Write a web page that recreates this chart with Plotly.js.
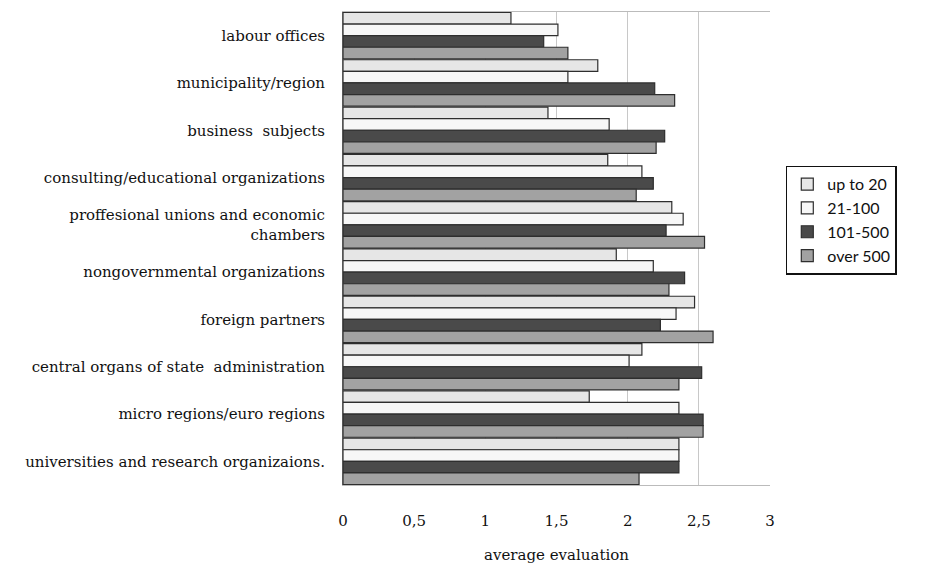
<!DOCTYPE html>
<html>
<head>
<meta charset="utf-8">
<script src="https://cdn.plot.ly/plotly-3.0.1.min.js"></script>
<style>html,body{margin:0;padding:0;background:#fff;}#chart{width:943px;height:569px;}</style>
</head>
<body>
<div id="chart"></div>
<script>
const categories = [
  "labour offices",
  "municipality/region",
  "business  subjects",
  "consulting/educational organizations",
  "proffesional unions and economic<br>chambers",
  "nongovernmental organizations",
  "foreign partners",
  "central organs of state  administration",
  "micro regions/euro regions",
  "universities and research organizaions."
];
const seriesNames = ["up to 20", "21-100", "101-500", "over 500"];
const upTo20   = [1.18, 1.79, 1.44, 1.86, 2.31, 1.92, 2.47, 2.10, 1.73, 2.36];
const s21to100 = [1.51, 1.58, 1.87, 2.10, 2.39, 2.18, 2.34, 2.01, 2.36, 2.36];
const s101to500= [1.41, 2.19, 2.26, 2.18, 2.27, 2.40, 2.23, 2.52, 2.53, 2.36];
const over500  = [1.58, 2.33, 2.20, 2.06, 2.54, 2.29, 2.60, 2.36, 2.53, 2.08];
const tickVals = [0, 0.5, 1, 1.5, 2, 2.5, 3];
const tickText = ["0", "0,5", "1", "1,5", "2", "2,5", "3"];

const values = [upTo20, s21to100, s101to500, over500];
const fills = ["#e6e6e6", "#f7f7f7", "#4a4a4a", "#a2a2a2"];

const data = values.map((v, i) => ({
  type: "bar",
  orientation: "h",
  name: seriesNames[i],
  x: v,
  y: categories,
  marker: {color: fills[i], line: {color: "#2e2e2e", width: 1.2}},
  hoverinfo: "x+name"
}));

const layout = {
  width: 943, height: 569,
  margin: {l: 343, r: 173, t: 12, b: 84},
  paper_bgcolor: "#fff", plot_bgcolor: "#fff",
  barmode: "group", bargap: 0.02, bargroupgap: 0,
  font: {family: "DejaVu Serif, Liberation Serif, serif", color: "#111", size: 15},
  xaxis: {
    range: [0, 3], tickvals: tickVals, ticktext: tickText,
    showgrid: true, gridcolor: "#c8c8c8", gridwidth: 1,
    zeroline: false, showline: true, linecolor: "#bbb", mirror: true,
    ticks: "", ticklabelstandoff: 22,
    tickfont: {size: 15},
    title: {text: "average evaluation", font: {size: 15}, standoff: 20}
  },
  yaxis: {
    autorange: "reversed", showline: true, linecolor: "#555", linewidth: 1,
    ticks: "", showgrid: false, tickfont: {size: 15}, ticklabelstandoff: 14
  },
  legend: {
    x: 1.037, y: 0.675, xanchor: "left", yanchor: "top",
    traceorder: "normal", bordercolor: "#111", borderwidth: 1.5,
    bgcolor: "#fff", font: {family: "Lato, Open Sans, sans-serif", size: 16},
    itemwidth: 30, tracegroupgap: 0
  },
  showlegend: true
};

Plotly.newPlot("chart", data, layout, {displayModeBar: false, staticPlot: true});
</script>
</body>
</html>
